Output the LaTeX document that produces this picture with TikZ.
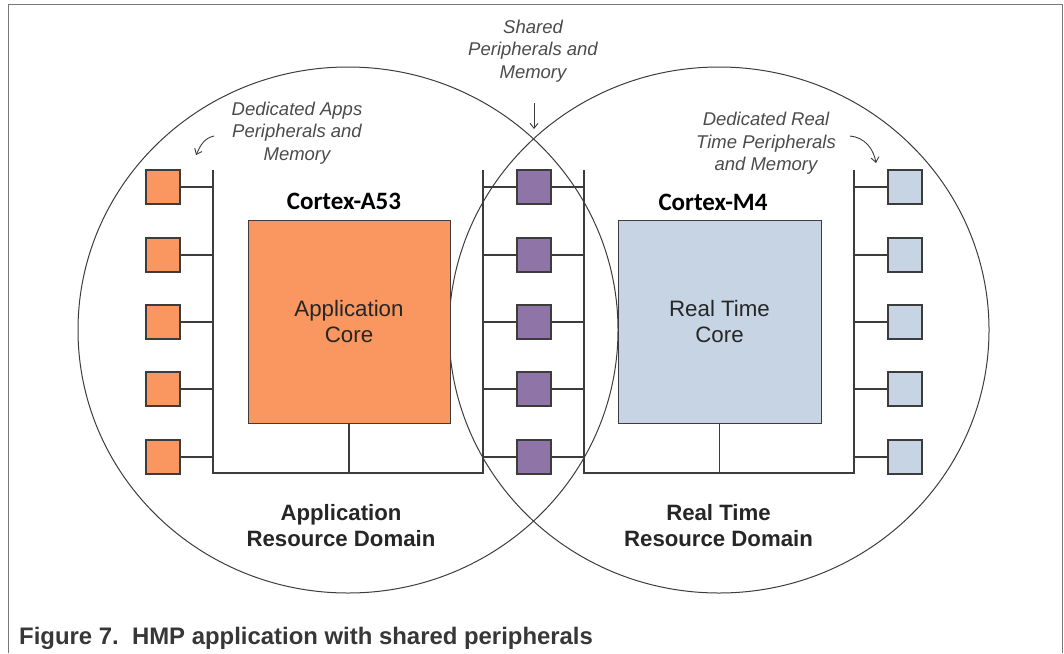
\documentclass[tikz,border=0pt]{standalone}
\usepackage{fontspec}
\setmainfont{Liberation Sans}
\newfontfamily\calib{Carlito}
\usetikzlibrary{arrows.meta,shapes.geometric}
\definecolor{lineg}{RGB}{60,60,60}
\definecolor{frameg}{RGB}{120,120,120}
\definecolor{orangef}{RGB}{250,150,96}
\definecolor{purplef}{RGB}{143,116,168}
\definecolor{bluef}{RGB}{198,212,228}
\definecolor{notec}{RGB}{75,75,75}
\definecolor{capc}{RGB}{55,55,55}
\tikzset{
  wire/.style={draw=lineg, line width=1.2pt},
  sq/.style={draw=lineg, line width=1.1pt, minimum size=34pt, inner sep=0pt, rectangle},
  osq/.style={sq, fill=orangef},
  psq/.style={sq, fill=purplef},
  bsq/.style={sq, fill=bluef},
  corebox/.style={draw=lineg, line width=1pt, minimum width=202pt, minimum height=203pt, inner sep=0pt, align=center, font=\fontsize{22.3}{26.5}\selectfont, text=black!85},
  domcircle/.style={draw=lineg, line width=1pt, ellipse, minimum width=540pt, minimum height=526pt, inner sep=0pt},
  note/.style={align=center, text=notec, font=\itshape\fontsize{18.5}{22.5}\selectfont},
  cortex/.style={font=\calib\bfseries\fontsize{25}{30}\selectfont},
  domlabel/.style={align=center, font=\bfseries\fontsize{22.2}{26}\selectfont, text=black!85},
  pointer/.style={draw=lineg, line width=0.9pt, -{Straight Barb[length=5pt,width=8pt]}}
}
\begin{document}
\begin{tikzpicture}[x=1pt,y=-1pt]
\useasboundingbox (0,0) rectangle (1064,653);
% frame
\coordinate (f1) at (8,653);
\coordinate (f2) at (8,4);
\coordinate (f3) at (1062,4);
\coordinate (f4) at (1062,653);
\draw[frameg, line width=1pt] (f1) -- (f2) -- (f3) -- (f4);

% domains
\node[domcircle] (appdom) at (348,330) {};
\node[domcircle] (rtdom) at (719,330) {};

% cores
\node[corebox, fill=orangef] (acore) at (349,321.5) {Application\\Core};
\node[corebox, fill=bluef, minimum width=203pt] (rcore) at (719.5,321.5) {Real Time\\Core};
\node[cortex] (a53) at (344,201) {Cortex-A53};
\node[cortex] (m4) at (713,202) {Cortex-M4};

% buses
\coordinate (aLt) at (213,170);
\coordinate (aLb) at (213,473);
\coordinate (aRt) at (483,170);
\coordinate (aRb) at (483,473);
\coordinate (rLt) at (584,170);
\coordinate (rLb) at (584,473);
\coordinate (rRt) at (854,170);
\coordinate (rRb) at (854,473);
\draw[wire] (aLt) -- (aLb) -- (aRb) -- (aRt);
\draw[wire] (rLt) -- (rLb) -- (rRb) -- (rRt);
\draw[wire] (acore.south) -- (acore.south |- aLb);
\draw[wire] (rcore.south) -- (rcore.south |- rLb);

% peripherals
\foreach \y [count=\i] in {187,255,322,389,457} {
  \node[osq] (a\i) at (163,\y) {};
  \node[psq] (s\i) at (534,\y) {};
  \node[bsq] (r\i) at (905,\y) {};
  \draw[wire] (a\i.east) -- (a\i.east -| aLt);
  \draw[wire] (s\i.west) -- (s\i.west -| aRt);
  \draw[wire] (s\i.east) -- (s\i.east -| rLt);
  \draw[wire] (r\i.west) -- (r\i.west -| rRt);
}

% domain labels
\node[domlabel] (adl) at (341,526) {Application\\Resource Domain};
\node[domlabel] (rdl) at (718.5,526) {Real Time\\Resource Domain};

% notes
\node[note] (napp) at (297,133) {Dedicated Apps\\Peripherals and\\Memory};
\node[note] (nsh) at (533,51) {Shared\\Peripherals and\\Memory};
\node[note] (nrt) at (766,143.5) {Dedicated Real\\Time Peripherals\\and Memory};

\coordinate (pa1) at (214,136);
\coordinate (pa2) at (196,155);
\draw[pointer] (pa1) to[out=192,in=65] (pa2);
\coordinate (ps1) at (534,103);
\coordinate (ps2) at (534,129);
\draw[pointer] (ps1) -- (ps2);
\coordinate (pr1) at (850,136);
\coordinate (pr2) at (876,163);
\draw[pointer] (pr1) to[out=-5,in=100] (pr2);

% caption
\node[anchor=west, inner sep=0pt, text=capc, font=\bfseries\fontsize{23.9}{28}\selectfont] (cap) at (19,638) {Figure 7.\ \ HMP application with shared peripherals};
\end{tikzpicture}
\end{document}
